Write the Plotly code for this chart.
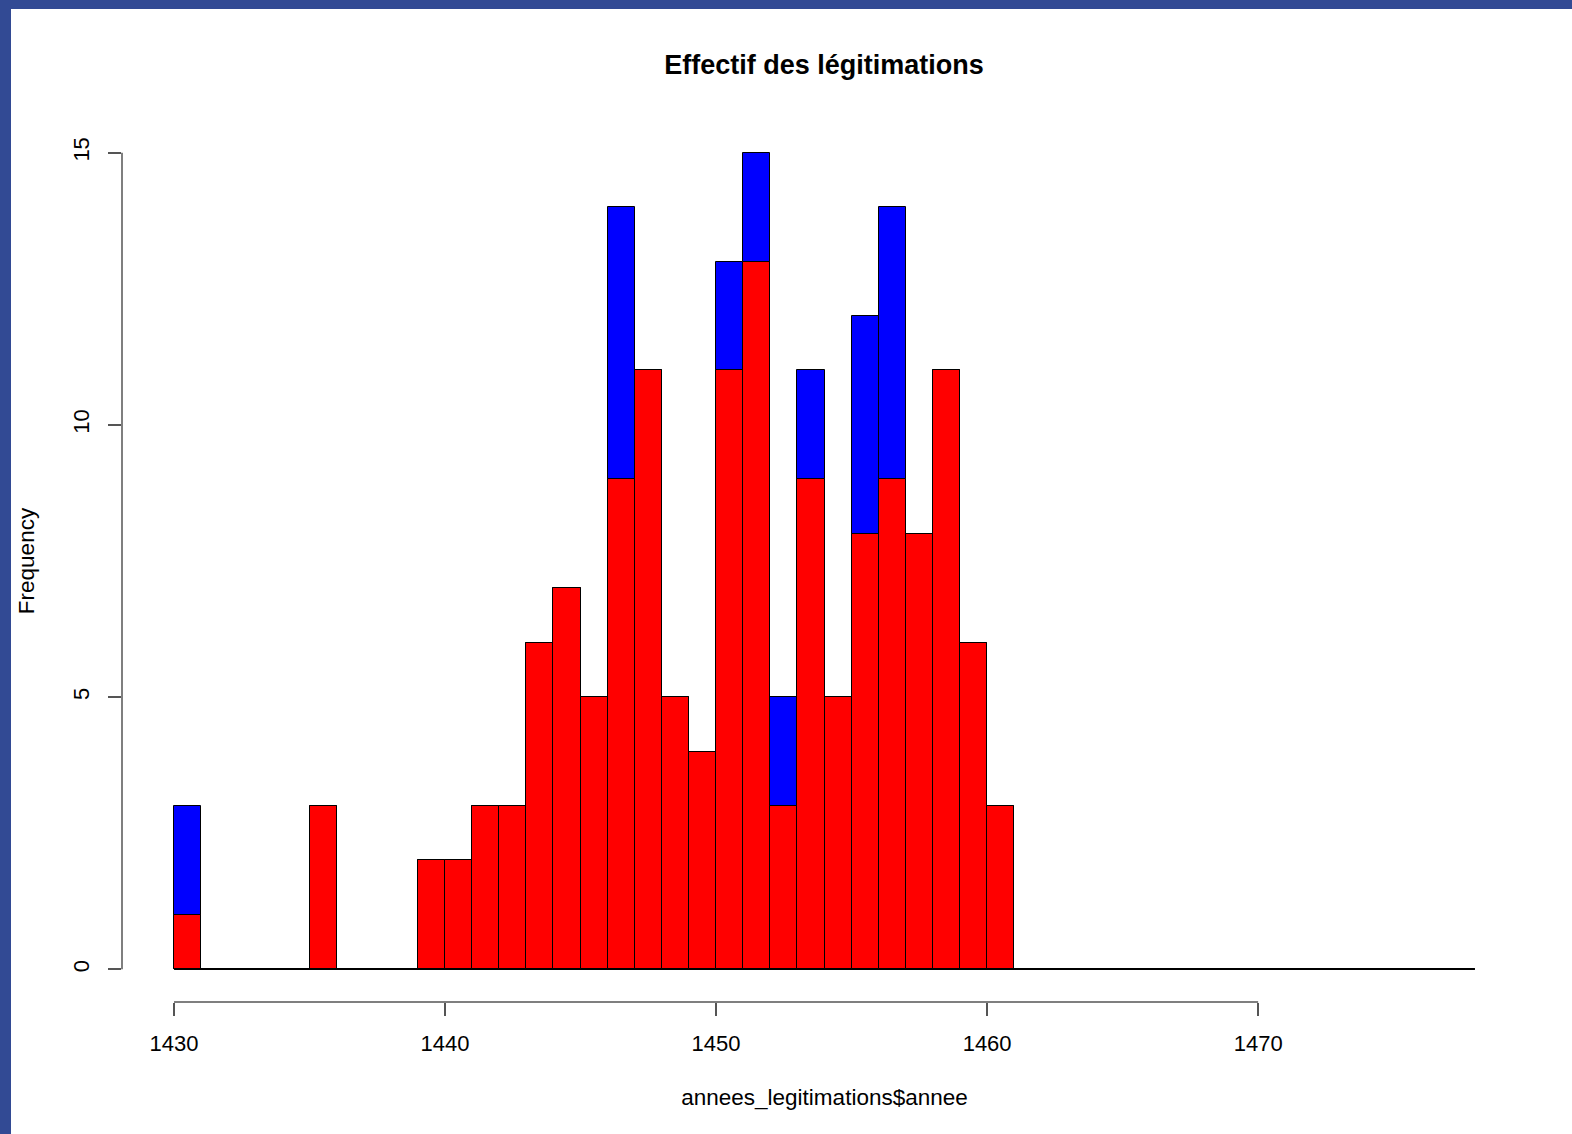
import plotly.graph_objects as go

# Histogram data (1-year bins, left edges)
bin_left = list(range(1430, 1478))
total_counts = [3, 0, 0, 0, 0, 3, 0, 0, 0, 2, 2, 3, 3, 6, 7, 5, 14, 11, 5, 4,
                13, 15, 5, 11, 5, 12, 14, 8, 11, 6, 3] + [0] * 17
red_counts = [1, 0, 0, 0, 0, 3, 0, 0, 0, 2, 2, 3, 3, 6, 7, 5, 9, 11, 5, 4,
              11, 13, 3, 9, 5, 8, 9, 8, 11, 6, 3] + [0] * 17
breaks = bin_left + [bin_left[-1] + 1]
x_ticks = [1430, 1440, 1450, 1460, 1470]
y_ticks = [0, 5, 10, 15]

FONT = "Liberation Sans, Arial, Helvetica, sans-serif"
W, H = 1572, 1134
L, R, T, B = 122, 45, 120, 132

centers = [b + 0.5 for b in bin_left]

fig = go.Figure()
fig.add_trace(go.Bar(x=centers, y=total_counts, width=1,
                     marker=dict(color="#0000FF", line=dict(color="black", width=1)),
                     hoverinfo="skip", showlegend=False))
fig.add_trace(go.Bar(x=centers, y=red_counts, width=1,
                     marker=dict(color="#FF0000", line=dict(color="black", width=1)),
                     hoverinfo="skip", showlegend=False))
fig.add_trace(go.Scatter(x=[breaks[0], breaks[-1]], y=[0, 0], mode="lines",
                         line=dict(color="black", width=1.5),
                         hoverinfo="skip", showlegend=False))

xr = breaks[-1] - breaks[0]
x_range = [breaks[0] - 0.04 * xr, breaks[-1] + 0.04 * xr]
y_range = [-0.04 * 15, 15 + 0.04 * 15]

pw, ph = W - L - R, H - T - B

shapes = [
    # axis lines only spanning tick range (R style)
    dict(type="line", xref="x", yref="paper", x0=x_ticks[0], x1=x_ticks[-1], y0=0, y1=0,
         line=dict(color="#555555", width=1.5)),
    dict(type="line", xref="paper", yref="y", x0=0, x1=0, y0=y_ticks[0], y1=y_ticks[-1],
         line=dict(color="#555555", width=1.5)),
    # blue slide frame on left and top
    dict(type="rect", xref="paper", yref="paper", x0=(0 - L) / pw, x1=(11 - L) / pw,
         y0=-(B) / ph, y1=(H - B) / ph, line=dict(width=0), fillcolor="#324A94", layer="above"),
    dict(type="rect", xref="paper", yref="paper", x0=(0 - L) / pw, x1=(W - L) / pw,
         y0=(H - B - 9) / ph, y1=(H - B) / ph, line=dict(width=0), fillcolor="#324A94", layer="above"),
]

fig.update_layout(
    width=W, height=H,
    margin=dict(l=L, r=R, t=T, b=B, pad=0),
    paper_bgcolor="white", plot_bgcolor="white",
    barmode="overlay", bargap=0,
    font=dict(family=FONT, size=21, color="black"),
    title=dict(text="<b>Effectif des légitimations</b>", x=824 / W, xanchor="center",
               y=1 - 65 / H, yanchor="middle", font=dict(size=27, family=FONT)),
    shapes=shapes,
    xaxis=dict(range=x_range, tickvals=x_ticks, ticktext=[str(v) for v in x_ticks],
               ticks="outside", ticklen=13, tickcolor="#555555", tickwidth=1.5,
               ticklabelstandoff=9,
               showgrid=False, zeroline=False, showline=False,
               title=dict(text="annees_legitimations$annee", standoff=33,
                          font=dict(size=22.5)),
               tickfont=dict(size=22)),
    yaxis=dict(range=y_range, tickvals=y_ticks, ticktext=[str(v) for v in y_ticks],
               ticks="outside", ticklen=13, tickcolor="#555555", tickwidth=1.5,
               ticklabelstandoff=10,
               tickangle=-90, showgrid=False, zeroline=False, showline=False,
               title=dict(text="Frequency", standoff=28, font=dict(size=22.5)),
               tickfont=dict(size=22)),
)

fig.write_html("out.html", config={"displayModeBar": False},
               post_script="document.body.style.margin='0';document.body.style.padding='0';")
